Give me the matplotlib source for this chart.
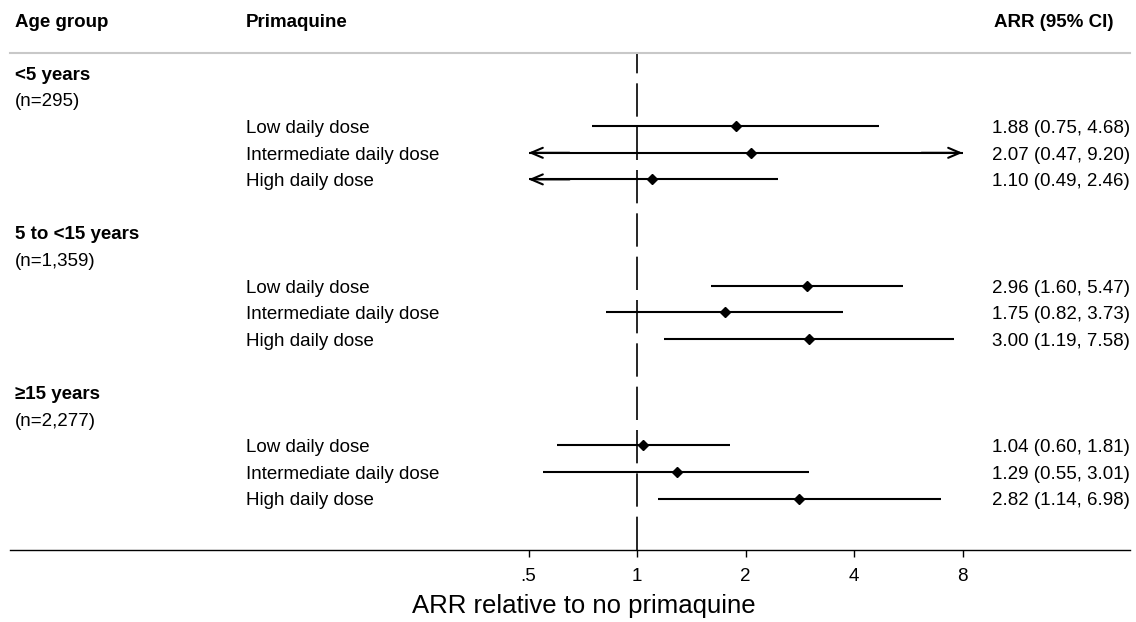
import numpy as np
import matplotlib
matplotlib.use("Agg")
import matplotlib.pyplot as plt

plt.rcParams['font.family'] = ['Liberation Sans', 'DejaVu Sans']

# ---- data ----
groups = ["<5 years", "5 to <15 years", "\u226515 years"]
group_n = ["(n=295)", "(n=1,359)", "(n=2,277)"]
doses = ["Low daily dose", "Intermediate daily dose", "High daily dose"]
arr = [[1.88, 2.07, 1.10], [2.96, 1.75, 3.00], [1.04, 1.29, 2.82]]
lo = [[0.75, 0.47, 0.49], [1.60, 0.82, 1.19], [0.60, 0.55, 1.14]]
hi = [[4.68, 9.20, 2.46], [5.47, 3.73, 7.58], [1.81, 3.01, 6.98]]
xticks = [0.5, 1, 2, 4, 8]
xticklabels = [".5", "1", "2", "4", "8"]
clip_lo, clip_hi = 0.5, 8

W, H = 1136, 622
fig = plt.figure(figsize=(W / 100, H / 100), dpi=100)
top_px, bot_px = 53, 550
ax = fig.add_axes([10 / W, 1 - bot_px / H, 1120 / W, (bot_px - top_px) / H])
ax.set_xscale('log', base=2)
# pixel mapping: x_px = 637 + 108.5*log2(v)
ax.set_xlim(2 ** ((10 - 637) / 108.5), 2 ** ((1130 - 637) / 108.5))
row_h = 26.6
ax.set_ylim((bot_px - 73) / row_h, (top_px - 73) / row_h)

for s in ['left', 'right']:
    ax.spines[s].set_visible(False)
ax.spines['bottom'].set_linewidth(1.0)
ax.spines['top'].set_color('#c8c8c8')
ax.spines['top'].set_linewidth(1.5)
ax.set_yticks([])
ax.set_xticks(xticks)
ax.set_xticklabels(xticklabels, fontsize=13.5)
ax.xaxis.set_minor_locator(matplotlib.ticker.NullLocator())
ax.tick_params(axis='x', length=5, width=1, pad=8)

fig.text(584 / W, 1 - 606 / H, "ARR relative to no primaquine", fontsize=18.5,
         ha='center', va='center')

# null line
ax.axvline(1, color='black', lw=1.2, dashes=(20, 6), zorder=1)

fs = 13.5
toff = 0.09  # small downward shift of text rows
trans_x = matplotlib.transforms.blended_transform_factory(fig.transFigure, ax.transData)

def fx(px):
    return px / W

# headers
hy = (20 - 73) / row_h + toff
ax.text(fx(15), hy, "Age group", transform=trans_x, fontsize=fs, fontweight='bold', va='center', ha='left')
ax.text(fx(246), hy, "Primaquine", transform=trans_x, fontsize=fs, fontweight='bold', va='center', ha='left')
ax.text(fx(1113), hy, "ARR (95% CI)", transform=trans_x, fontsize=fs, fontweight='bold', va='center', ha='right')

arrow_props = dict(arrowstyle='->,head_length=0.7,head_width=0.3', mutation_scale=12,
                   lw=1.5, color='black', shrinkA=0, shrinkB=0)

row = 0
for g in range(len(groups)):
    ax.text(fx(15), row + toff, groups[g], transform=trans_x, fontsize=fs, fontweight='bold', va='center', ha='left')
    ax.text(fx(15), row + 1 + toff, group_n[g], transform=trans_x, fontsize=fs, va='center', ha='left')
    for d in range(len(doses)):
        y = row + 2 + d
        ax.text(fx(246), y + toff, doses[d], transform=trans_x, fontsize=fs, va='center', ha='left')
        ax.text(fx(1130), y + toff, f"{arr[g][d]:.2f} ({lo[g][d]:.2f}, {hi[g][d]:.2f})",
                transform=trans_x, fontsize=fs, va='center', ha='right')
        l = max(lo[g][d], clip_lo)
        h = min(hi[g][d], clip_hi)
        ax.plot([l, h], [y, y], color='black', lw=1.5, solid_capstyle='butt', zorder=2)
        if lo[g][d] < clip_lo:
            ax.annotate('', xy=(l, y), xytext=(l * 1.3, y), arrowprops=arrow_props)
        if hi[g][d] > clip_hi:
            ax.annotate('', xy=(h, y), xytext=(h / 1.3, y), arrowprops=arrow_props)
        ax.plot([arr[g][d]], [y], marker='D', color='black', markersize=5, zorder=3)
    row += 6

fig.savefig("out.png", dpi=100)
